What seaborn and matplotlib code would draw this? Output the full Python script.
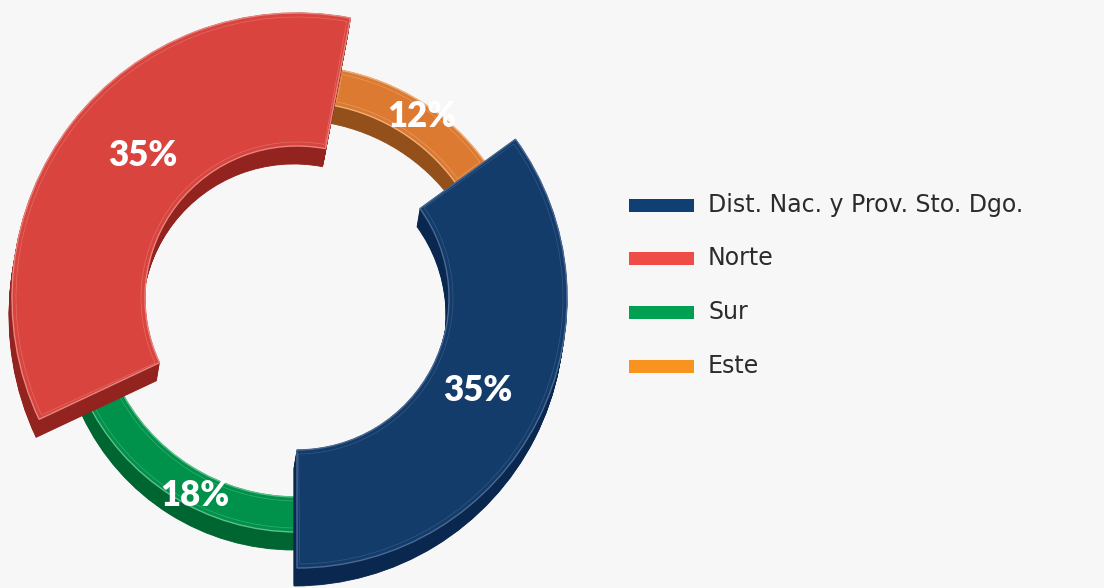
import numpy as np
import matplotlib
matplotlib.use("Agg")
import matplotlib.pyplot as plt
from matplotlib.patches import Wedge, Rectangle
import seaborn as sns

# ---- data ----
categories = ["Dist. Nac. y Prov. Sto. Dgo.", "Norte", "Sur", "Este"]
values = [35, 35, 18, 12]          # percent
labels = ["35%", "35%", "18%", "12%"]

# ---- style ----
ring_order = [0, 2, 1, 3]          # clockwise order around the ring
face_colors = ["#133c6b", "#d9443f", "#00914b", "#dd7a32"]
side_colors = ["#0a284f", "#93231f", "#006631", "#94501a"]
edge_colors = ["#4a6a94", "#e9857f", "#5cc08a", "#f0b07a"]
legend_colors = ["#0f3f73", "#ef4b47", "#00a052", "#f7931e"]
r_outer = [270, 285, 234, 232]
r_inner = [152, 152, 199, 196]
label_r = [203, 210, 222, 220]
label_dang = [0, 5, -5, 2]
draw_order = [2, 3, 1, 0]

BG = "#f7f7f7"
sns.set_theme(style="white", rc={"axes.facecolor": BG, "figure.facecolor": BG})

W, H = 1104, 588
fig = plt.figure(figsize=(W / 100, H / 100), dpi=100)
ax = fig.add_axes([0, 0, 1, 1])
ax.set_xlim(0, W)
ax.set_ylim(0, H)
ax.set_aspect("equal")
ax.axis("off")

cx, cy = 297, 290
start = 54.0  # degrees clockwise from 12 o'clock
total = float(sum(values))

# angular spans (clockwise from top)
spans = {}
a = start
for i in ring_order:
    sweep = values[i] / total * 360.0
    spans[i] = (a, a + sweep)
    a += sweep

depth_dx, depth_dy = -3, -18

for i in draw_order:
    ta, tb = spans[i]
    t1, t2 = 90 - tb, 90 - ta
    w = r_outer[i] - r_inner[i]
    for k in np.linspace(1, 0, 24):
        ax.add_patch(Wedge((cx + depth_dx * k, cy + depth_dy * k), r_outer[i], t1, t2,
                           width=w, facecolor=side_colors[i], edgecolor=side_colors[i],
                           linewidth=0.6))
    ax.add_patch(Wedge((cx, cy), r_outer[i], t1, t2, width=w,
                       facecolor=face_colors[i], edgecolor=edge_colors[i], linewidth=1.0))
    ax.add_patch(Wedge((cx, cy), r_outer[i] - 4, t1 + 0.6, t2 - 0.6, width=w - 8,
                       facecolor="none", edgecolor=edge_colors[i], linewidth=0.5, alpha=0.6))

# value labels
for i in range(len(values)):
    ta, tb = spans[i]
    mid = np.deg2rad((ta + tb) / 2 + label_dang[i])
    x = cx + label_r[i] * np.sin(mid)
    y = cy + label_r[i] * np.cos(mid)
    ax.text(x, y, labels[i], color="white", fontsize=25, fontweight="heavy",
            family="Lato", ha="center", va="center")

# legend
leg_y = [383, 330, 276, 222]
for i, name in enumerate(categories):
    ax.add_patch(Rectangle((629, leg_y[i] - 6.5), 65, 13, facecolor=legend_colors[i],
                           edgecolor="none"))
    ax.text(708, leg_y[i], name, color="#2b2b2b", fontsize=17, family="DejaVu Sans",
            ha="left", va="center")

fig.savefig("out.png", dpi=100, facecolor=BG)
